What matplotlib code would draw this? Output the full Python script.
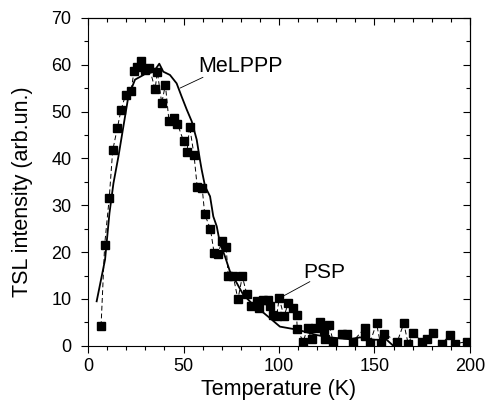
import numpy as np
import matplotlib
matplotlib.use('Agg')
import matplotlib.pyplot as plt
from matplotlib.ticker import MultipleLocator

plt.rcParams['font.family'] = ['Liberation Sans', 'DejaVu Sans']

# PSP: squares joined by a dashed line
psp_T = [6.8, 8.7, 11.1, 12.9, 15.3, 17.3, 19.7, 22.5, 24.1, 25.8, 27.9, 29.8,
         32.1, 35.1, 36.3, 38.6, 40.5, 42.4, 45.0, 46.8, 50.1, 51.8, 53.2, 55.5,
         57.2, 59.8, 61.1, 64.1, 66.0, 68.1, 70.0, 72.3, 73.5, 76.1, 78.5, 80.8,
         83.1, 85.2, 88.3, 89.5, 91.7, 94.4, 95.5, 97.0, 98.8, 100.1, 102.6, 104.9,
         107.1, 109.2, 109.6, 112.7, 115.0, 117.1, 118.8, 121.5, 123.6, 124.3, 126.3,
         128.4, 132.8, 135.8, 138.6, 145.0, 145.3, 147.6, 151.1, 153.2, 155.0, 162.0,
         165.4, 167.7, 170.3, 174.7, 177.3, 180.8, 185.2, 189.5, 192.1, 198.3]
psp_I = [4.2, 21.6, 31.6, 41.7, 46.4, 50.4, 53.6, 54.3, 58.7, 59.6, 60.7, 58.9,
         59.3, 54.8, 58.4, 51.8, 55.7, 47.9, 48.6, 47.4, 43.6, 41.3, 46.8, 40.7,
         33.8, 33.6, 28.1, 24.9, 19.9, 19.6, 22.3, 21.0, 14.8, 14.8, 9.9, 14.8,
         11.1, 8.4, 9.5, 8.0, 9.8, 9.8, 8.4, 6.6, 6.3, 10.2, 6.3, 9.1,
         8.0, 6.6, 3.5, 0.9, 3.8, 1.4, 3.8, 5.0, 3.4, 1.4, 4.5,
         0.9, 2.5, 2.5, 0.9, 3.8, 2.0, 0.6, 4.8, 0.4, 2.6, 0.9,
         4.8, 0.4, 2.8, 0.9, 1.4, 2.7, 0.4, 2.3, 0.4, 0.9]

# MeLPPP: solid line
mel_T = [4.5, 8.9, 11.2, 13.3, 15.9, 18.5, 21.1, 24.6, 29.0, 33.4, 35.1, 37.3,
         39.4, 42.9, 46.4, 49.0, 51.7, 54.3, 56.9, 58.6, 59.5, 61.3, 63.9, 65.6,
         67.4, 69.1, 71.7, 74.3, 77.9, 81.3, 85.7, 90.0, 95.3, 100.5, 110.1, 119.7,
         126.7, 131.9, 137.2, 142.4, 146.8, 149.4, 156.4, 159.9]
mel_I = [9.5, 18.4, 28.3, 34.7, 40.4, 46.8, 53.2, 56.8, 57.8, 59.3, 58.9, 60.2,
         58.5, 57.8, 56.0, 53.2, 50.4, 47.9, 44.0, 39.7, 37.6, 34.0, 31.9, 27.6,
         25.5, 21.9, 19.1, 15.9, 13.4, 10.9, 9.1, 7.7, 5.9, 4.1, 3.4, 2.3,
         1.8, 1.6, 1.4, 1.8, 1.6, 1.3, 1.3, 0.0]

fig = plt.figure(figsize=(4.92, 4.04), dpi=100)
ax = fig.add_axes([0.179, 0.144, 0.776, 0.812])

ax.plot(psp_T, psp_I, color='black', linestyle=(0, (5, 3)), linewidth=0.7,
        marker='s', markersize=5.8, markerfacecolor='black', markeredgecolor='black')
ax.plot(mel_T, mel_I, color='black', linewidth=1.3)

# labels with thin leader lines
ax.text(57.6, 58.5, 'MeLPPP', fontsize=15.5, ha='left', va='baseline')
ax.annotate('', xy=(48.2, 55.0), xytext=(60.2, 57.3),
            arrowprops=dict(arrowstyle='-', color='black', linewidth=0.6,
                            shrinkA=0, shrinkB=0))
ax.text(112.7, 14.5, 'PSP', fontsize=15, ha='left', va='baseline')
ax.annotate('', xy=(102.2, 10.6), xytext=(116.2, 13.7),
            arrowprops=dict(arrowstyle='-', color='black', linewidth=0.6,
                            shrinkA=0, shrinkB=0))

ax.set_xlim(0, 200)
ax.set_ylim(0, 70)
ax.xaxis.set_major_locator(MultipleLocator(50))
ax.xaxis.set_minor_locator(MultipleLocator(10))
ax.yaxis.set_major_locator(MultipleLocator(10))
ax.yaxis.set_minor_locator(MultipleLocator(5))

ax.tick_params(which='both', bottom=True, left=True, top=False, right=False,
               direction='out', labelsize=13)
ax.tick_params(which='major', length=5, width=0.8)
ax.tick_params(which='minor', length=3, width=0.8)
ax.tick_params(axis='y', which='major', pad=7)

# inward ticks on top and right
ax_top = ax.secondary_xaxis('top')
ax_top.xaxis.set_major_locator(MultipleLocator(50))
ax_top.xaxis.set_minor_locator(MultipleLocator(10))
ax_top.tick_params(which='both', direction='in', labeltop=False)
ax_top.tick_params(which='major', length=5, width=0.8)
ax_top.tick_params(which='minor', length=3, width=0.8)
ax_right = ax.secondary_yaxis('right')
ax_right.yaxis.set_major_locator(MultipleLocator(10))
ax_right.yaxis.set_minor_locator(MultipleLocator(5))
ax_right.tick_params(which='both', direction='in', labelright=False)
ax_right.tick_params(which='major', length=5, width=0.8)
ax_right.tick_params(which='minor', length=3, width=0.8)

ax.set_xlabel('Temperature (K)', fontsize=15.5, labelpad=3)
ax.set_ylabel('TSL intensity (arb.un.)', fontsize=15.5)
ax.yaxis.set_label_coords(-0.145, 0.47)

plt.savefig('out.png', dpi=100)
